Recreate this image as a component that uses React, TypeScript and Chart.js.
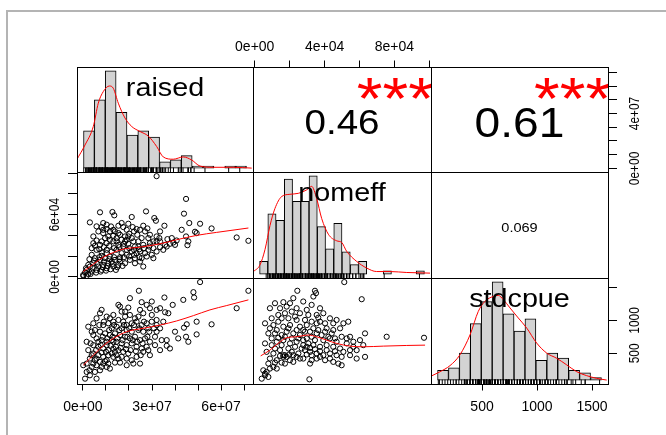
import React, { useEffect, useRef } from 'react';
import { Chart, registerables } from 'chart.js';

Chart.register(...registerables);

// ---------------- DATA ----------------
const varNames = ['raised', 'nomeff', 'stdcpue'];

// histogram breaks (raised in millions, nomeff in thousands)
const raisedCounts = [18, 33, 47, 27, 16, 18, 15, 3, 4, 6, 1, 1, 0, 1, 1];
const raisedBreakStart = 0;
const raisedBreakStep = 5;
const nomeffCounts = [4, 19, 17, 30, 23, 23, 31, 15, 8, 16, 7, 3, 4, 0, 0, 1, 0, 0, 0, 1];
const nomeffBreakStart = 0;
const nomeffBreakStep = 5;
const stdcpueCounts = [4, 5, 11, 23, 32, 40, 27, 20, 25, 8, 11, 9, 4, 3, 1];
const stdcpueBreakStart = 100;
const stdcpueBreakStep = 100;

// density curves (same units as histogram counts)
const raisedDensX = [-3.2, 0.7, 4.5, 6.8, 9.1, 11.9, 13.7, 16.0, 19.1, 22.2, 26.0, 29.8, 33.7, 36.7, 41.3, 45.9, 49.8, 53.6, 59.7, 68.9, 77.4];
const raisedDensY = [3.9, 11.2, 20.1, 31.4, 37.0, 39.7, 38.6, 31.4, 24.2, 20.1, 17.7, 15.5, 10.4, 5.4, 4.3, 5.4, 3.9, 1.0, 0.4, 0.4, 0.0];
const nomeffDensX = [-4, 0.25, 3.3, 6.3, 9.3, 13.4, 18.4, 23.5, 28.6, 31.6, 34.6, 37.7, 41.7, 46.8, 49.8, 52.8, 58.9, 65.0, 71.0, 79.1, 89.3, 103.4];
const nomeffDensY = [0.7, 2.9, 7.8, 15.3, 20.7, 24.5, 25.2, 25.5, 26.6, 27.7, 23.9, 17.5, 12.6, 10.5, 10.0, 7.2, 4.0, 1.9, 0.8, 0.8, 0.5, 0.3];
const stdcpueDensX = [31, 122, 214, 305, 397, 473, 534, 610, 656, 702, 763, 839, 916, 1007, 1099, 1190, 1282, 1374, 1465, 1557, 1648];
const stdcpueDensY = [1.4, 3.4, 5.9, 10.3, 18.4, 28.0, 32.1, 34.1, 34.5, 32.8, 29.4, 25.3, 21.2, 15.1, 11.0, 8.9, 6.2, 3.4, 1.8, 0.7, 0.0];

// scatter: raised (M) vs nomeff (k)
const rnRaised = [32.0, 44.8, 7.4, 12.8, 13.6, 27.4, 21.2, 43.9, 3.0, 31.0, 31.7, 8.8, 8.1, 10.3, 12.2, 16.8, 17.5, 21.6, 22.2, 26.2, 28.0, 27.0, 35.4, 46.2, 50.9, 55.9, 48.7, 49.4, 42.9, 66.8, 71.9, 44.8, 45.8, 45.4, 37.8, 39.3, 36.7, 33.2, 32.0, 29.1, 25.5, 23.6, 20.1, 18.3, 15.4, 13.2, 11.0, 8.8, 5.9, 4.5, 7.4, 10.3, 13.2, 15.4, 17.5, 19.7, 21.9, 24.1, 26.2, 28.4, 30.6, 33.5, 35.7, 27.7, 25.5, 23.3, 21.2, 19.0, 16.8, 14.6, 12.5, 10.3, 8.1, 5.9, 3.8, 5.2, 7.4, 9.6, 11.7, 13.9, 16.1, 18.3, 20.4, 22.6, 26.2, 4.5, 3.0, 6.7, 8.8, 11.0, 1.6, 3.8, 5.9, 8.1, 0.1, 2.3, 0.9, 10.3, 13.2, 15.4, 22.6, 24.8, 29.9, 32.0, 34.9, 38.6, 40.7, 19.0, 16.8, 11.7, 13.9, 9.6, 4.5, 6.7, 33.5, 15.4, 19.7, 23.3, 10.3, 14.6, 27.0, 30.6, 16.1, 12.5, 8.1, 19.0, 22.6, 32.0, 29.1, 24.8,
  3.8, 5.2, 7.1, 9.1, 11.4, 13.5, 15.8, 17.8, 20.1, 22.2, 24.5, 26.5, 28.8, 2.8, 4.8, 7.1, 9.1, 11.4, 13.5, 15.8, 17.8, 20.1, 22.2, 24.5, 2.3, 4.2, 6.2, 8.6, 10.6, 12.9, 14.9, 17.2, 1.3, 3.3, 5.7, 7.7, 10.0, 12.0, 14.3, 0.2, 1.6, 10.3, 8.1, 11.7, 14.6, 18.3, 21.2, 24.1, 30.6, 33.5, 36.4, 40.0, 28.4, 24.8, 19.0, 13.2, 8.8, 5.9, 16.1, 19.7];
const rnNomeff = [97.0, 75.1, 62.2, 62.5, 59.3, 63.1, 57.7, 60.9, 52.5, 56.7, 54.1, 51.9, 48.0, 50.3, 48.6, 51.9, 48.0, 48.0, 43.8, 49.3, 46.7, 43.8, 49.3, 51.9, 51.2, 46.7, 43.5, 42.2, 45.4, 38.0, 34.8, 39.0, 34.2, 30.6, 31.9, 33.2, 36.4, 37.4, 34.2, 32.5, 37.4, 40.6, 41.6, 39.0, 42.2, 39.6, 39.0, 42.2, 35.1, 32.5, 30.9, 32.5, 34.2, 30.9, 29.3, 31.9, 34.2, 29.3, 30.9, 26.1, 27.7, 28.7, 30.9, 19.7, 18.1, 22.9, 24.5, 21.3, 22.9, 26.1, 24.5, 26.1, 23.5, 26.1, 21.3, 18.1, 16.4, 18.1, 19.7, 16.4, 14.8, 13.2, 16.4, 18.1, 10.0, 13.2, 10.0, 10.0, 11.6, 13.2, 6.8, 5.2, 6.8, 6.8, 1.9, 2.9, 4.2, 8.4, 10.0, 11.6, 13.2, 14.8, 21.3, 24.5, 26.1, 37.4, 35.1, 26.1, 35.8, 43.8, 43.8, 37.4, 39.0, 43.8, 43.8, 49.3, 51.2, 46.1, 46.1, 37.4, 22.9, 18.1, 19.0, 14.8, 20.3, 35.8, 29.3, 39.0, 40.6, 24.5,
  27.7, 30.0, 26.7, 28.7, 30.0, 27.7, 28.7, 31.9, 27.7, 26.1, 26.7, 27.7, 29.3, 17.1, 15.8, 19.0, 14.8, 17.1, 19.0, 17.1, 19.0, 19.7, 21.3, 19.0, 11.6, 8.4, 12.6, 9.4, 10.6, 12.6, 9.4, 10.6, 8.4, 2.9, 4.2, 5.2, 6.1, 7.4, 6.8, 1.0, 1.0, 22.9, 34.2, 35.8, 34.2, 34.2, 37.4, 34.2, 34.2, 34.2, 29.3, 30.9, 37.4, 45.4, 45.4, 45.4, 45.4, 48.7, 40.6, 39.0];
const rnLoessX = [0.1, 4.5, 8.8, 13.2, 17.5, 24.8, 33.5, 40.7, 49.4, 58.1, 71.9];
const rnLoessY = [5.2, 12.3, 19.0, 23.5, 26.8, 28.7, 31.9, 35.8, 40.0, 42.9, 47.1];

// scatter: raised (M) vs stdcpue
const rsRaised = [50.9, 71.9, 24.3, 48.0, 48.3, 35.4, 20.4, 19.7, 25.5, 29.9, 39.0, 43.6, 15.4, 16.1, 29.1, 32.0, 33.5, 8.1, 7.4, 13.2, 18.3, 20.4, 22.6, 24.1, 26.2, 35.7, 37.1, 66.8, 4.5, 2.3, 55.9, 45.1, 43.9, 49.4, 44.8, 45.8, 49.4, 36.4, 37.8, 31.3, 32.0, 33.5, 0.1, 1.6, 0.9, 3.0, 5.9, 16.1, 21.9, 21.2, 23.3, 10.3, 11.7, 8.1, 8.8, 11.0, 13.2, 15.4, 17.5, 19.0, 21.2, 23.3, 25.5, 27.7, 29.9, 32.0, 12.5, 14.6, 16.8, 19.0, 21.2, 24.1, 26.2, 28.4, 7.4, 9.6, 11.7, 13.9, 16.1, 18.3, 20.4, 22.6, 24.8, 27.0, 29.1, 5.9, 8.1, 10.3, 12.5, 14.6, 16.8, 19.0, 21.2, 23.3, 25.5, 27.7, 4.5, 6.7, 8.8, 11.0, 13.2, 15.4, 17.5, 19.7, 2.3, 4.5, 6.7, 8.8, 11.0, 13.2, 15.4, 3.0, 5.2, 7.4, 9.6, 19.0, 1.6, 3.8, 5.9, 13.2, 11.7, 18.3, 10.3, 13.9, 26.2, 28.4, 31.3, 34.2,
  5.2, 7.1, 9.1, 11.4, 13.5, 15.8, 17.8, 20.1, 22.2, 24.5, 26.5, 28.8, 30.9, 4.5, 6.7, 8.6, 10.6, 12.9, 14.9, 17.2, 19.3, 21.6, 23.6, 25.9, 28.0, 3.3, 5.7, 7.7, 10.0, 12.0, 14.3, 16.4, 18.7, 20.7, 23.0, 25.1, 3.8, 5.9, 8.1, 10.3, 12.5, 14.6, 16.8, 4.5, 7.4, 8.8, 2.8, 5.2, 11.0, 13.9, 19.0, 24.8, 29.1, 33.5, 36.4, 40.0, 41.4, 32.0, 34.9, 29.9, 24.8, 27.7, 16.8, 10.3, 5.9, 3.8, 1.6];
const rsStdcpue = [1583, 1451, 1451, 1430, 1349, 1349, 1339, 1196, 1278, 1288, 1237, 1313, 1237, 1211, 1186, 1161, 1186, 1161, 1110, 1084, 1059, 1084, 1033, 1059, 1110, 1125, 1110, 1186, 957, 906, 942, 942, 891, 982, 753, 677, 789, 616, 575, 753, 830, 881, 321, 219, 117, 168, 117, 361, 346, 397, 448, 295, 270, 295, 931, 957, 982, 1008, 982, 931, 957, 982, 931, 957, 982, 931, 881, 906, 881, 855, 830, 855, 830, 881, 830, 804, 779, 804, 779, 753, 728, 753, 702, 728, 677, 728, 702, 677, 702, 677, 652, 626, 652, 601, 575, 601, 626, 601, 575, 550, 575, 550, 524, 499, 550, 499, 473, 448, 473, 448, 422, 422, 397, 372, 382, 422, 346, 295, 321, 677, 1033, 1135, 626, 524, 524, 550, 626, 702,
  855, 931, 982, 855, 931, 855, 931, 881, 931, 881, 982, 830, 881, 779, 677, 753, 728, 753, 728, 702, 753, 702, 677, 652, 753, 652, 550, 626, 524, 616, 601, 585, 565, 550, 534, 473, 473, 422, 514, 397, 499, 473, 448, 346, 244, 346, 244, 219, 346, 361, 321, 346, 473, 550, 702, 830, 728, 1008, 982, 1084, 1161, 1237, 1135, 1059, 1033, 830, 677];
const rsLoessX = [0.1, 4.5, 8.8, 13.2, 19.0, 26.2, 33.5, 40.7, 48.0, 55.2, 62.5, 71.9];
const rsLoessY = [321, 473, 616, 728, 830, 881, 931, 993, 1074, 1161, 1227, 1313];

// scatter: nomeff (k) vs stdcpue
const nsNomeff = [51.3, 24.4, 34.5, 35.1, 33.6, 61.3, 11.6, 16.4, 22.1, 20.2, 27.8, 32.6, 8.7, 14.5, 18.3, 24.0, 29.8, 37.4, 39.3, 43.1, 46.9, 50.8, 53.6, 5.9, 10.7, 13.5, 16.4, 20.2, 25.9, 29.8, 33.6, 35.5, 41.2, 45.0, 48.9, 7.8, 11.6, 15.4, 18.3, 22.1, 25.9, 28.8, 32.6, 35.5, 38.3, 42.2, 46.0, 49.8, 52.7, 63.2, 75.6, 97.0, 5.9, 9.7, 12.6, 16.4, 20.2, 24.0, 27.8, 30.7, 33.6, 37.4, 41.2, 45.0, 48.9, 52.7, 56.5, 62.2, 6.8, 10.7, 14.5, 17.3, 21.2, 25.0, 28.8, 31.7, 35.5, 39.3, 43.1, 46.9, 50.8, 54.6, 58.4, 63.2, 8.7, 12.6, 16.4, 20.2, 27.8, 32.6, 35.5, 43.1, 47.9, 49.8, 4.9, 6.8, 8.7, 10.7, 4.0, 5.9, 17.3, 31.7, 31.3, 22.1, 27.8, 19.3, 23.1, 36.4, 45.0, 56.5, 43.1,
  13.5, 17.3, 21.2, 25.9, 30.7, 35.5, 9.7, 15.4, 24.0, 28.8, 32.6, 37.4, 40.3, 8.7, 12.6, 19.3, 24.0, 27.8, 31.7, 36.4, 40.3, 44.1, 9.7, 13.5, 17.3, 21.2, 25.0, 29.8, 34.5, 39.3, 46.9, 11.6, 15.4, 19.3, 23.1, 26.9, 29.8, 31.7, 34.5, 37.4, 41.2, 46.0, 49.8, 16.4, 18.3, 19.8, 14.5, 24.0, 25.9, 29.8, 32.6, 37.4, 40.3, 54.6, 58.4, 7.8, 11.6, 15.4, 22.1, 45.0, 12.6, 5.9, 7.8, 54.6, 60.3];
const nsStdcpue = [1583, 1451, 1451, 1415, 1364, 1323, 1262, 1278, 1339, 1262, 1288, 1237, 1186, 1186, 1211, 1186, 1161, 1186, 1110, 1033, 1008, 957, 982, 957, 931, 982, 906, 931, 906, 931, 881, 957, 881, 855, 881, 804, 804, 779, 830, 804, 779, 830, 753, 804, 779, 753, 728, 753, 728, 804, 753, 738, 652, 626, 677, 702, 652, 677, 626, 652, 626, 601, 626, 601, 575, 652, 601, 626, 524, 499, 550, 473, 524, 499, 550, 524, 499, 473, 499, 473, 524, 550, 550, 448, 422, 397, 448, 397, 422, 473, 422, 422, 346, 321, 244, 219, 270, 295, 117, 168, 346, 346, 107, 473, 702, 1033, 1059, 1043, 957, 677, 728,
  1084, 1110, 1135, 1110, 1084, 1084, 1033, 1033, 1008, 1008, 982, 982, 957, 881, 855, 881, 855, 855, 830, 855, 830, 804, 728, 738, 753, 728, 728, 728, 702, 702, 677, 575, 626, 575, 601, 575, 601, 585, 565, 534, 550, 534, 448, 473, 448, 484, 463, 448, 422, 484, 397, 448, 397, 473, 422, 346, 361, 361, 372, 372, 270, 193, 143, 753, 702];
const nsLoessX = [3.4, 8.7, 14.5, 18.3, 24.0, 30.7, 35.5, 41.2, 46.9, 54.6, 62.2, 73.7, 87.1, 97.6];
const nsLoessY = [463, 550, 677, 738, 753, 779, 753, 702, 652, 611, 601, 611, 621, 626];

// correlations
const corrValues = [0.46, 0.61, 0.069];
const corrStars = ['***', '***', ''];

// pairs axis limits
const raisedLim = [-2.6, 73.9];
const nomeffLim = [-1, 101];
const stdcpueLim = [36, 1645];

// ticks and labels
const raisedTicks = [0, 10, 20, 30, 40, 50, 60, 70];
const raisedBottomLabels = ['0e+00', '', '', '3e+07', '', '', '6e+07', ''];
const raisedRightLabels = ['0e+00', '', '', '', '4e+07', '', '', ''];
const nomeffTicks = [0, 20, 40, 60, 80, 100];
const nomeffTopLabels = ['0e+00', '', '4e+04', '', '8e+04', ''];
const nomeffLeftLabels = ['0e+00', '', '', '6e+04', '', ''];
const stdcpueTicks = [500, 1000, 1500];
const stdcpueBottomLabels = ['500', '1000', '1500'];
const stdcpueRightLabels = ['500', '1000', ''];

// ---------------- LAYOUT / STYLE ----------------
const W = 666;
const H = 435;
const COLS = [77, 253, 431, 608];
const ROWS = [67, 172, 278, 384];
const AX = 40;
const FONT = '"Liberation Sans", Arial, Helvetica, sans-serif';
const TICK_X = 6.5;
const TICK_Y = 9;

Chart.defaults.font.family = FONT;

const HISTS = [
  { counts: raisedCounts, start: raisedBreakStart, step: raisedBreakStep, densX: raisedDensX, densY: raisedDensY, rug: rsRaised },
  { counts: nomeffCounts, start: nomeffBreakStart, step: nomeffBreakStep, densX: nomeffDensX, densY: nomeffDensY, rug: nsNomeff },
  { counts: stdcpueCounts, start: stdcpueBreakStart, step: stdcpueBreakStep, densX: stdcpueDensX, densY: stdcpueDensY, rug: nsStdcpue },
];
const LIMS = [raisedLim, nomeffLim, stdcpueLim];

function hiddenScale(axis: string, min: number, max: number, edges?: number[]) {
  const s: any = { type: 'linear', axis, min, max, display: false, offset: false };
  if (edges) s.afterBuildTicks = (sc: any) => { sc.ticks = edges.map((v) => ({ value: v })); };
  return s;
}

function shownScale(axis: 'x' | 'y', position: string, lim: number[], ticks: number[], labels: string[], showLabels: boolean, padding: number) {
  return {
    type: 'linear', axis, position, min: lim[0], max: lim[1], offset: false,
    afterBuildTicks: (sc: any) => { sc.ticks = ticks.map((v) => ({ value: v })); },
    afterFit: (sc: any) => { if (axis === 'x') sc.height = AX; else sc.width = AX; },
    grid: { display: true, drawOnChartArea: false, drawTicks: true, tickLength: axis === 'x' ? TICK_X : TICK_Y, color: '#000', lineWidth: 1, offset: false },
    border: { display: true, color: '#000', width: 1 },
    ticks: {
      display: showLabels, autoSkip: false, maxRotation: 0, minRotation: 0, padding, color: '#000',
      font: { family: FONT, size: 14 },
      callback: (_v: any, i: number) => labels[i] ?? '',
    },
  };
}

const boxPlugin = {
  id: 'panelBox',
  afterDraw(chart: any) {
    const { ctx, chartArea: a } = chart;
    ctx.save();
    ctx.strokeStyle = '#000';
    ctx.lineWidth = 1;
    ctx.strokeRect(Math.round(a.left) + 0.5, Math.round(a.top) + 0.5, Math.round(a.right - a.left), Math.round(a.bottom - a.top));
    ctx.restore();
  },
};

function rotLabels(scaleId: string, ticks: number[], labels: string[], side: 'left' | 'right') {
  return {
    id: 'rot_' + scaleId,
    afterDraw(chart: any) {
      const s = chart.scales[scaleId];
      const a = chart.chartArea;
      const ctx = chart.ctx;
      const x = side === 'left' ? a.left - 22 : a.right + 27;
      ctx.save();
      ctx.font = `14px ${FONT}`;
      ctx.fillStyle = '#000';
      ctx.textAlign = 'center';
      ctx.textBaseline = 'middle';
      ticks.forEach((v, i) => {
        const t = labels[i];
        if (!t) return;
        const y = s.getPixelForValue(v);
        ctx.save();
        ctx.translate(x, y);
        ctx.rotate(-Math.PI / 2);
        ctx.scale(0.85, 1);
        ctx.fillText(t, 0, 0);
        ctx.restore();
      });
      ctx.restore();
    },
  };
}

function diagLabel(text: string) {
  return {
    id: 'diagLabel',
    afterDatasetsDraw(chart: any) {
      const { ctx, chartArea: a } = chart;
      ctx.save();
      ctx.font = `25px ${FONT}`;
      ctx.fillStyle = '#000';
      ctx.textAlign = 'center';
      ctx.textBaseline = 'alphabetic';
      ctx.translate((a.left + a.right) / 2, a.top + 28.5);
      ctx.scale(1.15, 1);
      ctx.fillText(text, 0, 0);
      ctx.restore();
    },
  };
}

function corrText(r: number, stars: string) {
  const txt = r.toPrecision(2);
  return {
    id: 'corrText',
    afterDatasetsDraw(chart: any) {
      const { ctx, chartArea: a } = chart;
      const w = a.right - a.left;
      const h = a.bottom - a.top;
      ctx.save();
      ctx.beginPath();
      ctx.rect(a.left, a.top, w, h);
      ctx.clip();
      ctx.font = `100px ${FONT}`;
      const em = ctx.measureText(txt).width / 100;
      const base = 116.8 / em;
      const size = (base * (Math.abs(r) + 0.3)) / 1.3;
      ctx.fillStyle = '#000';
      ctx.textAlign = 'center';
      ctx.textBaseline = 'alphabetic';
      ctx.save();
      ctx.font = `${size}px ${FONT}`;
      ctx.translate(a.left + 0.5 * w, a.top + 0.5 * h + 0.358 * size + 2);
      ctx.scale(1.1, 1);
      ctx.fillText(txt, 0, 0);
      ctx.restore();
      if (stars) {
        ctx.save();
        ctx.font = `${base}px ${FONT}`;
        ctx.fillStyle = '#FF0000';
        ctx.translate(a.left + 0.8 * w, a.top + 0.495 * h);
        ctx.scale(1.1, 1);
        ctx.fillText(stars, 0, 0);
        ctx.restore();
      }
      ctx.restore();
    },
  };
}

function pts(xs: number[], ys: number[]) {
  return xs.map((x, i) => ({ x, y: ys[i] }));
}

function buildConfig(r: number, c: number) {
  const datasets: any[] = [];
  const scales: any = {};
  const plugins: any[] = [];
  const sides = { left: false, right: false, top: false, bottom: false };

  if (r === c) {
    const h = HISTS[r];
    const n = h.counts.length;
    const edges = Array.from({ length: n + 1 }, (_, i) => h.start + i * h.step);
    const lo = edges[0];
    const hi = edges[n];
    const ext = 0.04 * (hi - lo);
    const yMax = Math.max(...h.counts);
    const yMin = -0.04 * yMax;
    const yTop = 1.04 * yMax;
    scales.x = hiddenScale('x', lo - ext, hi + ext, edges);
    scales.y = hiddenScale('y', yMin, yTop);
    const rugY = yMin + (yTop - yMin) * 0.02;
    datasets.push({
      type: 'scatter', data: pts(h.densX, h.densY), showLine: true, borderColor: '#FF0000', borderWidth: 1,
      pointRadius: 0, cubicInterpolationMode: 'monotone', xAxisID: 'x', yAxisID: 'y', order: 0, clip: 0,
    });
    datasets.push({
      type: 'scatter', data: h.rug.map((v) => ({ x: v, y: rugY })), pointStyle: 'line', rotation: 90, pointRadius: 2.3,
      borderColor: '#000', borderWidth: 1, xAxisID: 'x', yAxisID: 'y', order: 1, clip: 0,
    });
    datasets.push({
      type: 'bar', data: h.counts.map((v, i) => ({ x: h.start + (i + 0.5) * h.step, y: v })),
      backgroundColor: '#D3D3D3', borderColor: '#000', borderWidth: 1, borderSkipped: false,
      barPercentage: 1, categoryPercentage: 1, xAxisID: 'x', yAxisID: 'y', order: 2, clip: 0,
    });
    plugins.push(diagLabel(varNames[r]));
    if (r === 2) {
      scales.xa = shownScale('x', 'bottom', stdcpueLim, stdcpueTicks, stdcpueBottomLabels, true, 7.8);
      scales.ya = shownScale('y', 'right', stdcpueLim, stdcpueTicks, stdcpueRightLabels, false, 0);
      plugins.push(rotLabels('ya', stdcpueTicks, stdcpueRightLabels, 'right'));
      sides.bottom = true;
      sides.right = true;
    }
  } else if (r > c) {
    let xs: number[], ys: number[], lx: number[], ly: number[];
    if (r === 1 && c === 0) { xs = rnRaised; ys = rnNomeff; lx = rnLoessX; ly = rnLoessY; }
    else if (r === 2 && c === 0) { xs = rsRaised; ys = rsStdcpue; lx = rsLoessX; ly = rsLoessY; }
    else { xs = nsNomeff; ys = nsStdcpue; lx = nsLoessX; ly = nsLoessY; }
    scales.x = hiddenScale('x', LIMS[c][0], LIMS[c][1]);
    scales.y = hiddenScale('y', LIMS[r][0], LIMS[r][1]);
    if (r === 1 && c === 0) {
      scales.y = shownScale('y', 'left', nomeffLim, nomeffTicks, nomeffLeftLabels, false, 0);
      plugins.push(rotLabels('y', nomeffTicks, nomeffLeftLabels, 'left'));
      sides.left = true;
    }
    if (r === 2 && c === 0) {
      scales.x = shownScale('x', 'bottom', raisedLim, raisedTicks, raisedBottomLabels, true, 7.8);
      sides.bottom = true;
    }
    datasets.push({
      type: 'scatter', data: pts(lx, ly), showLine: true, borderColor: '#FF0000', borderWidth: 1,
      pointRadius: 0, cubicInterpolationMode: 'monotone', xAxisID: 'x', yAxisID: 'y', order: 0, clip: 0,
    });
    datasets.push({
      type: 'scatter', data: pts(xs, ys), pointStyle: 'circle', pointRadius: 2.6, borderColor: '#000',
      backgroundColor: 'rgba(0,0,0,0)', borderWidth: 1, xAxisID: 'x', yAxisID: 'y', order: 1, clip: 0,
    });
  } else {
    const idx = r === 0 && c === 1 ? 0 : r === 0 && c === 2 ? 1 : 2;
    scales.x = hiddenScale('x', 0, 1);
    scales.y = hiddenScale('y', 0, 1);
    if (r === 0 && c === 1) {
      scales.x = shownScale('x', 'top', nomeffLim, nomeffTicks, nomeffTopLabels, true, 5.2);
      sides.top = true;
    }
    if (r === 0 && c === 2) {
      scales.y = shownScale('y', 'right', raisedLim, raisedTicks, raisedRightLabels, false, 0);
      plugins.push(rotLabels('y', raisedTicks, raisedRightLabels, 'right'));
      sides.right = true;
    }
    plugins.push(corrText(corrValues[idx], corrStars[idx]));
  }
  plugins.push(boxPlugin);

  const padding = {
    left: COLS[c] - (sides.left ? AX : 0),
    right: W - COLS[c + 1] - (sides.right ? AX : 0),
    top: ROWS[r] - (sides.top ? AX : 0),
    bottom: H - ROWS[r + 1] - (sides.bottom ? AX : 0),
  };

  return {
    type: 'scatter',
    data: { datasets },
    options: {
      responsive: false,
      maintainAspectRatio: false,
      animation: false,
      devicePixelRatio: 1,
      events: [],
      layout: { padding },
      scales,
      plugins: { legend: { display: false }, tooltip: { enabled: false }, title: { display: false } },
    },
    plugins,
  } as any;
}

export default function App() {
  const refs = useRef<(HTMLCanvasElement | null)[]>([]);

  useEffect(() => {
    const charts: Chart[] = [];
    for (let r = 0; r < 3; r++) {
      for (let c = 0; c < 3; c++) {
        const cv = refs.current[r * 3 + c];
        if (!cv) continue;
        charts.push(new Chart(cv, buildConfig(r, c)));
      }
    }
    return () => charts.forEach((ch) => ch.destroy());
  }, []);

  return (
    <div style={{ position: 'fixed', left: 0, top: 0, width: W, height: H, overflow: 'hidden', background: '#fff' }}>
      <div
        style={{
          position: 'absolute', left: 6, top: 10, width: 900, height: 700,
          borderTop: '2px solid #B4B4B4', borderLeft: '2px solid #B4B4B4',
        }}
      />
      {Array.from({ length: 9 }).map((_, i) => (
        <canvas
          key={i}
          ref={(el) => { refs.current[i] = el; }}
          width={W}
          height={H}
          style={{ position: 'absolute', left: 0, top: 0, width: W, height: H }}
        />
      ))}
    </div>
  );
}
